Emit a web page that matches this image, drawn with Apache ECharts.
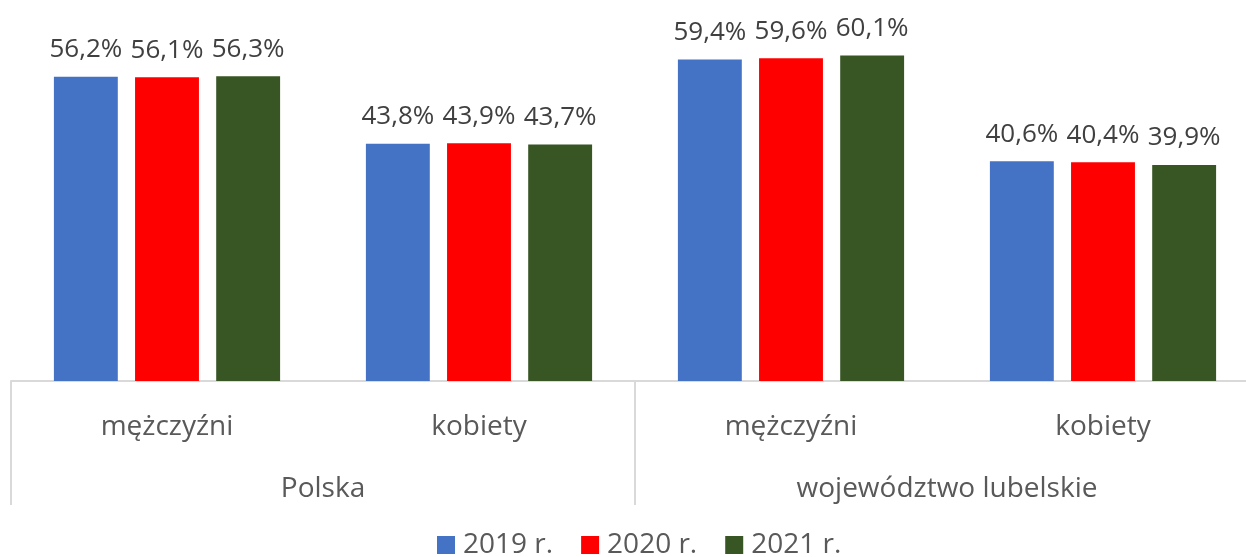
<!DOCTYPE html>
<html>
  <head>
    <meta charset="utf-8" />
    <title>Chart</title>
    <script src="https://cdn.jsdelivr.net/npm/echarts@6.0.0/dist/echarts.min.js"></script>
    <style>
      body { margin: 0; background: #fff; overflow: hidden; }
    </style>
  </head>
<body>
  <div id="chart" style="width: 1260px; height: 557px;"></div>
  <script type="text/javascript">
var categories = ['mężczyźni', 'kobiety', 'mężczyźni', 'kobiety'];
var regions = ['Polska', 'województwo lubelskie'];
var seriesNames = ['2019 r.', '2020 r.', '2021 r.'];
var colors = ['#4472C4', '#FF0000', '#375623'];
var values2019 = [56.2, 43.8, 59.4, 40.6];
var values2020 = [56.1, 43.9, 59.6, 40.4];
var values2021 = [56.3, 43.7, 60.1, 39.9];
var allValues = [values2019, values2020, values2021];

var myChart = echarts.init(document.getElementById('chart'));
var font = 'Open Sans';
var textColor = '#595959';

var option = {
  animation: false,
  grid: { left: 11, right: 1, top: 2, bottom: 176 },
  legend: {
    bottom: -2,
    left: 437,
    padding: 0,
    itemWidth: 18,
    itemHeight: 18,
    itemGap: 28,
    icon: 'rect',
    textStyle: { fontFamily: font, fontSize: 28, color: textColor, padding: [0, 0, 0, 3] }
  },
  xAxis: [
    {
      type: 'category',
      data: categories,
      axisLine: { lineStyle: { color: '#d9d9d9', width: 2 } },
      axisTick: { show: false },
      axisLabel: { fontFamily: font, fontSize: 28, color: textColor, margin: 32 }
    },
    {
      type: 'category',
      data: regions,
      position: 'bottom',
      axisLine: { show: false },
      axisTick: { show: true, length: 124, interval: 0, lineStyle: { color: '#d9d9d9', width: 2 } },
      axisLabel: { fontFamily: font, fontSize: 28, color: textColor, margin: 94 }
    }
  ],
  yAxis: {
    type: 'value',
    min: 0,
    max: 70,
    show: false,
    splitLine: { show: false }
  },
  series: seriesNames.map(function (name, i) {
    return {
      name: name,
      type: 'bar',
      data: allValues[i],
      itemStyle: { color: colors[i] },
      barGap: '27%',
      barCategoryGap: '27.5%',
      label: {
        show: true,
        position: 'top',
        distance: 14,
        fontFamily: font,
        fontSize: 26,
        color: '#404040',
        formatter: function (p) { return p.value.toFixed(1).replace('.', ',') + '%'; }
      }
    };
  })
};

myChart.setOption(option);
  </script>
</body>
</html>
